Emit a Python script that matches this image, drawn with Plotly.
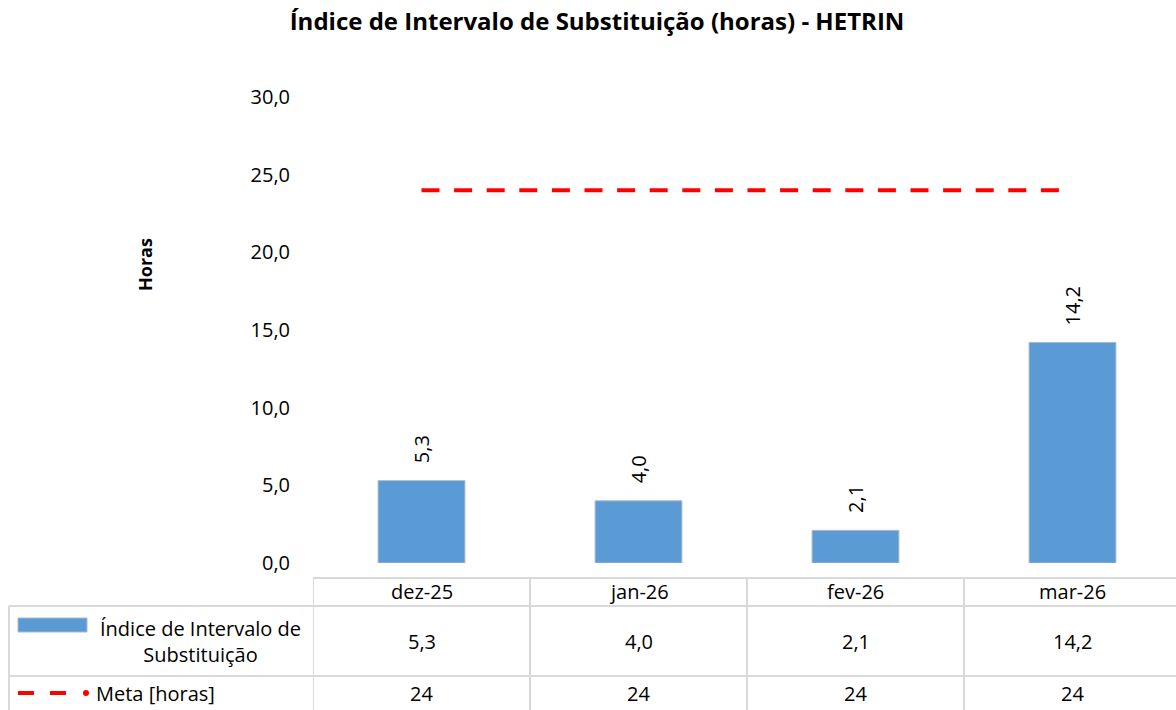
import plotly.graph_objects as go

categories = ["dez-25", "jan-26", "fev-26", "mar-26"]
indice_values = [5.3, 4.0, 2.1, 14.2]
meta_values = [24, 24, 24, 24]
y_ticks = [0, 5, 10, 15, 20, 25, 30]

series_bar_name = "Índice de Intervalo de<br>Substituição"
series_meta_name = "Meta [horas]"
title_text = "<b>Índice de Intervalo de Substituição (horas) - HETRIN</b>"

W, H = 1176, 710
PL, PR, PT, PB = 313, 1176, 97, 563
FONT = "Open Sans"
BAR_COLOR = "#5B9BD5"
GRID = "#D9D9D9"
FS = 20


def xp(px):
    return (px - PL) / (PR - PL)


def yp(py):
    return (PB - py) / (PB - PT)


def fmt(v):
    return f"{v:.1f}".replace(".", ",")


fig = go.Figure()
fig.add_trace(go.Bar(
    x=categories, y=indice_values, width=0.4,
    marker=dict(color=BAR_COLOR, line=dict(color="#A9B8C8", width=1)),
    showlegend=False, hoverinfo="x+y",
))
fig.add_trace(go.Scatter(
    x=categories, y=meta_values, mode="lines",
    line=dict(color="#FF0000", width=4, dash="18px,14.6px"),
    showlegend=False,
))

annotations = []
shapes = []

# data labels above bars (rotated)
for c, v in zip(categories, indice_values):
    annotations.append(dict(
        x=c, y=v, xref="x", yref="y", text=fmt(v), textangle=-90,
        showarrow=False, yanchor="bottom", xanchor="center", yshift=15,
        font=dict(family=FONT, size=FS, color="#000000"),
    ))

# y-axis title
annotations.append(dict(
    x=xp(145), y=yp(265), xref="paper", yref="paper", text="<b>Horas</b>",
    textangle=-90, showarrow=False, xanchor="center", yanchor="middle",
    font=dict(family=FONT, size=18, color="#000000"),
))

# table rows (pixel y)
row_top, row1_top, row2_top, row_bot = 578, 606, 676, 720
header_y = 591
r1_y = 641
r2_y = 693

for i, c in enumerate(categories):
    annotations.append(dict(x=c, y=yp(header_y), xref="x", yref="paper", text=c,
                            showarrow=False, xanchor="center", yanchor="middle",
                            font=dict(family=FONT, size=FS, color="#000000")))
    annotations.append(dict(x=c, y=yp(r1_y), xref="x", yref="paper", text=fmt(indice_values[i]),
                            showarrow=False, xanchor="center", yanchor="middle",
                            font=dict(family=FONT, size=FS, color="#000000")))
    annotations.append(dict(x=c, y=yp(r2_y), xref="x", yref="paper", text=str(meta_values[i]),
                            showarrow=False, xanchor="center", yanchor="middle",
                            font=dict(family=FONT, size=FS, color="#000000")))

annotations.append(dict(x=xp(200), y=yp(r1_y), xref="paper", yref="paper", text=series_bar_name,
                        showarrow=False, align="center", xanchor="center", yanchor="middle",
                        font=dict(family=FONT, size=FS, color="#000000")))
annotations.append(dict(x=xp(94), y=yp(r2_y), xref="paper", yref="paper", text=series_meta_name,
                        showarrow=False, xanchor="left", yanchor="middle",
                        font=dict(family=FONT, size=FS, color="#000000")))

line_style = dict(color=GRID, width=2)
shapes.append(dict(type="line", xref="paper", yref="paper", x0=0, x1=1,
                   y0=yp(row_top), y1=yp(row_top), line=line_style))
for yy in (row1_top, row2_top):
    shapes.append(dict(type="line", xref="paper", yref="paper", x0=xp(9), x1=1,
                       y0=yp(yy), y1=yp(yy), line=line_style))
shapes.append(dict(type="line", xref="paper", yref="paper", x0=xp(9), x1=xp(9),
                   y0=yp(row1_top), y1=yp(row_bot), line=line_style))
for i in range(len(categories)):
    shapes.append(dict(type="line", xref="x", yref="paper", x0=i - 0.5, x1=i - 0.5,
                       y0=yp(row_top), y1=yp(row_bot), line=line_style))

# legend keys
shapes.append(dict(type="rect", xref="paper", yref="paper", x0=xp(18), x1=xp(87),
                   y0=yp(632), y1=yp(618), fillcolor=BAR_COLOR,
                   line=dict(color="#A9B8C8", width=1)))
for a, b in ((18, 34), (50, 66)):
    shapes.append(dict(type="line", xref="paper", yref="paper", x0=xp(a), x1=xp(b),
                       y0=yp(693), y1=yp(693), line=dict(color="#FF0000", width=4)))
shapes.append(dict(type="circle", xref="paper", yref="paper", x0=xp(83), x1=xp(89),
                   y0=yp(696), y1=yp(690), fillcolor="#FF0000", line=dict(width=0)))

fig.update_layout(
    width=W, height=H,
    margin=dict(l=PL, r=W - PR, t=PT, b=H - PB, pad=0),
    paper_bgcolor="white", plot_bgcolor="white",
    separators=",.",
    title=dict(text=title_text, x=597 / W, xanchor="center", y=1 - 22 / H, yanchor="middle",
               font=dict(family=FONT, size=24, color="#000000")),
    xaxis=dict(range=[-0.5, 3.5 - 5 / 217], showticklabels=False, showgrid=False,
               zeroline=False, showline=False, ticks=""),
    yaxis=dict(range=[0, 30], tickvals=y_ticks, tickformat=".1f", showgrid=False,
               zeroline=False, showline=False, ticks="", ticklabelstandoff=22,
               tickfont=dict(family=FONT, size=FS, color="#000000")),
    annotations=annotations, shapes=shapes,
    bargap=0.6,
)

fig.write_html(
    "out.html",
    config={"displayModeBar": False},
    post_script="document.body.style.margin='0';document.body.style.overflow='hidden';",
)
